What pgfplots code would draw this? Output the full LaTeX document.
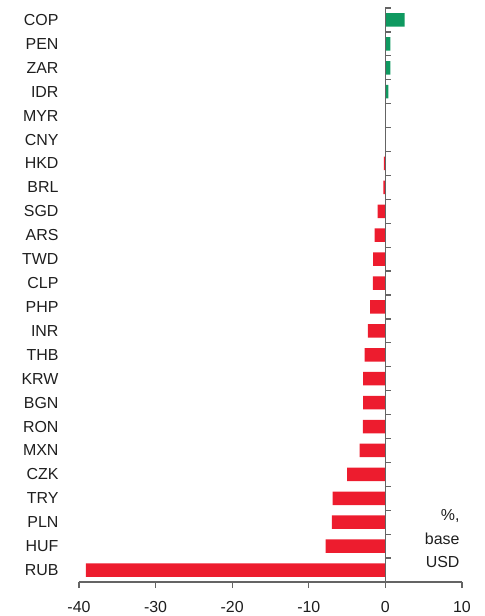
\documentclass[border=0pt]{standalone}
\usepackage{pgfplots}
\pgfplotsset{compat=1.18}
\usepackage{fontspec}
\setmainfont{Liberation Sans}
\definecolor{barred}{RGB}{237,28,46}
\definecolor{bargreen}{RGB}{15,153,96}
\definecolor{axgray}{RGB}{100,100,100}
\definecolor{txt}{RGB}{30,30,30}
\begin{document}
\begin{tikzpicture}
\path[use as bounding box] (-79bp,-34bp) rectangle (406bp,582bp);
\begin{axis}[
  at={(0,0)}, anchor=south west,
  scale only axis, width=383bp, height=574bp,
  xmin=-40, xmax=10, ymin=-0.5, ymax=23.5,
  xbar, bar width=13.5bp, bar shift=0pt,
  axis x line*=bottom, axis y line*=left,
  y axis line style={draw=none},
  x axis line style={draw=axgray, line width=1.3bp},
  xtick={-40,-30,-20,-10,0,10},
  xticklabels={-40,-30,-20,-10,0,10},
  x tick style={draw=axgray, line width=1.3bp},
  tick align=outside, major tick length=6bp,
  ytick={0,...,23},
  yticklabels={RUB,HUF,PLN,TRY,CZK,MXN,RON,BGN,KRW,THB,INR,PHP,CLP,TWD,ARS,SGD,BRL,HKD,CNY,MYR,IDR,ZAR,PEN,COP},
  y tick style={draw=none},
  yticklabel style={font=\fontsize{16}{19}\selectfont, text=txt, xshift=-11bp},
  xticklabel style={font=\fontsize{16}{19}\selectfont, text=txt, yshift=-9.5bp},
  clip=false,
]
\addplot[fill=barred, draw=none] coordinates {
(-39.1,0) (-7.8,1) (-7.0,2) (-6.9,3) (-5.0,4) (-3.35,5) (-2.95,6) (-2.9,7) (-2.9,8) (-2.7,9) (-2.3,10) (-2.0,11) (-1.65,12) (-1.6,13) (-1.4,14) (-1.0,15) (-0.25,16) (-0.2,17)
};
\addplot[fill=bargreen, draw=none] coordinates {
(0,18) (0,19) (0.4,20) (0.65,21) (0.65,22) (2.5,23)
};
\draw[axgray, line width=1.3bp] (axis cs:0,-0.5) -- (axis cs:0,23.5);
\pgfplotsinvokeforeach{-0.5,0.5,...,23.5}{
  \draw[axgray, line width=1.3bp] (axis cs:0,#1) -- ([xshift=6bp]axis cs:0,#1);
}
\node[anchor=east, align=right, text=txt, font=\fontsize{16}{23.5}\selectfont, inner sep=0pt] at (axis cs:9.7,1.3) {\%,\\base\\USD};
\end{axis}
\end{tikzpicture}
\end{document}
